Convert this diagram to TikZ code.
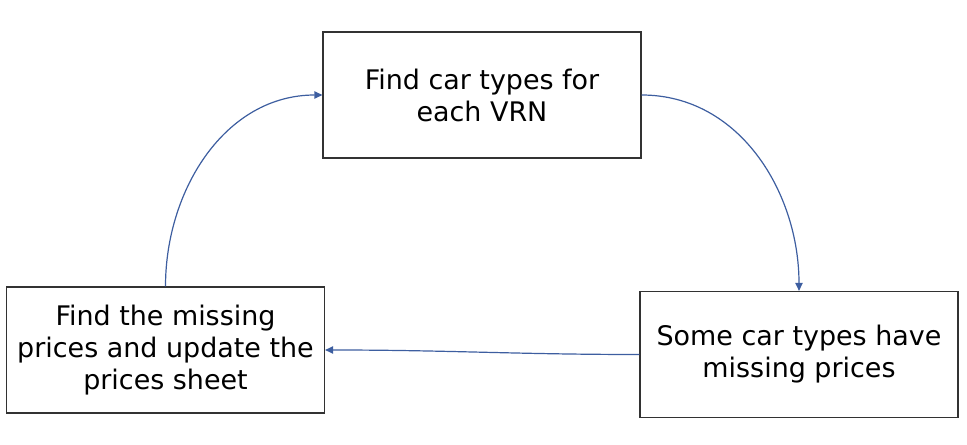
\documentclass[tikz,border=0pt]{standalone}
\usepackage{fontspec}
\setmainfont{DejaVu Sans}
\usetikzlibrary{arrows.meta}
\definecolor{flowblue}{RGB}{61,94,160}
\definecolor{boxgray}{RGB}{50,50,50}

\begin{document}
\begin{tikzpicture}[x=0.75pt,y=-0.75pt]
        \tikzstyle{every node} = [rectangle, draw=boxgray, line width=0.9pt,
            minimum width=238.5pt, minimum height=94.5pt, align=center,
            font=\fontsize{20.2}{24}\selectfont]
        \tikzstyle{flow} = [draw=flowblue, line width=0.9pt,
            -{Triangle[length=6pt,width=5.5pt]}]
        \useasboundingbox (0,0) rectangle (967,445);
        \node (findtypes) at (482,95) {Find car types for\\each VRN};
        \node (missing) at (799,354.5) {Some car types have\\missing prices};
        \node (update) at (165.5,350) {Find the missing\\prices and update the\\prices sheet};
        
        \foreach \from/\to/\o/\i in {findtypes.east/missing.north/0/90,
        missing.west/update.east/180/0, update.north/findtypes.west/90/180}
            \draw[flow] (\from) to[out=\o,in=\i] (\to);
    \end{tikzpicture}
\end{document}
